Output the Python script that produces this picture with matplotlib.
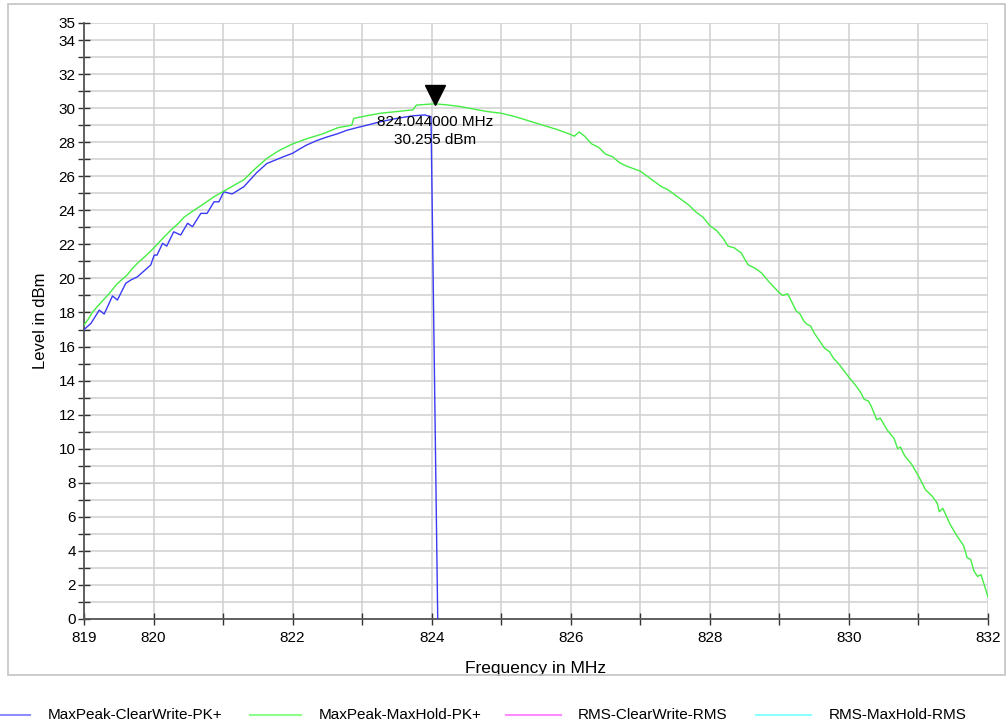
import numpy as np
import matplotlib
matplotlib.use("Agg")
import matplotlib.pyplot as plt
from matplotlib.lines import Line2D
from matplotlib.patches import Rectangle
from matplotlib.ticker import MultipleLocator, FuncFormatter
import matplotlib.transforms as mtransforms

plt.rcParams['font.family'] = ['Liberation Sans', 'DejaVu Sans']

# MaxPeak-MaxHold-PK+ (green)
hold_freq = [819.00, 819.06, 819.12, 819.19, 819.27, 819.36, 819.48, 819.62, 819.70, 819.77,
             819.88, 820.00, 820.12, 820.25, 820.35, 820.44, 820.58, 820.73, 820.87, 821.00,
             821.15, 821.30, 821.45, 821.63, 821.80,
             822.00, 822.20, 822.44, 822.65, 822.85, 822.88, 823.00, 823.26, 823.50, 823.73,
             823.78, 824.044, 824.20, 824.40, 824.60, 824.80, 825.00, 825.20,
             825.40, 825.60, 825.80, 826.00, 826.05, 826.12, 826.20, 826.30, 826.40, 826.50,
             826.60, 826.70, 826.80, 827.00, 827.10, 827.20, 827.30, 827.40, 827.50, 827.60,
             827.70, 827.80, 827.90, 828.00, 828.10, 828.20, 828.26, 828.35, 828.45, 828.55,
             828.65, 828.75, 828.85, 829.00, 829.05, 829.12, 829.18, 829.24, 829.30, 829.35,
             829.40, 829.45, 829.50, 829.55, 829.65, 829.72, 829.78, 829.85, 830.00, 830.10,
             830.17, 830.22, 830.28, 830.32, 830.40, 830.45, 830.55, 830.65, 830.70, 830.74,
             830.80, 830.90, 831.00, 831.05, 831.10, 831.20, 831.27, 831.30, 831.35, 831.45,
             831.55, 831.65, 831.70, 831.75, 831.80, 831.85, 831.90, 832.00]
hold_level = [17.26, 17.6, 18.0, 18.34, 18.7, 19.1, 19.7, 20.2, 20.6, 20.9,
              21.3, 21.77, 22.3, 22.84, 23.2, 23.6, 24.0, 24.4, 24.8, 25.1,
              25.45, 25.8, 26.4, 27.05, 27.5,
              27.9, 28.2, 28.5, 28.85, 29.0, 29.4, 29.5, 29.7, 29.8, 29.9,
              30.18, 30.255, 30.2, 30.1, 29.95, 29.8, 29.7, 29.5,
              29.25, 29.0, 28.75, 28.45, 28.35, 28.6, 28.35, 27.9, 27.7, 27.3,
              27.15, 26.8, 26.6, 26.3, 26.0, 25.7, 25.4, 25.2, 24.9, 24.6,
              24.3, 23.9, 23.6, 23.1, 22.8, 22.3, 21.9, 21.8, 21.5, 20.8,
              20.6, 20.3, 19.8, 19.15, 19.0, 19.1, 18.6, 18.1, 17.9, 17.5,
              17.3, 17.2, 16.8, 16.5, 15.9, 15.7, 15.3, 15.0, 14.2, 13.7,
              13.3, 12.9, 12.8, 12.5, 11.7, 11.8, 11.1, 10.6, 10.0, 10.1,
              9.6, 9.1, 8.4, 8.0, 7.6, 7.2, 6.8, 6.3, 6.5, 5.6,
              4.9, 4.3, 3.6, 3.5, 2.8, 2.5, 2.6, 1.3]

# MaxPeak-ClearWrite-PK+ (blue)
clear_freq = [819.00, 819.10, 819.22, 819.29, 819.41, 819.48, 819.60, 819.67, 819.77, 819.96,
              820.01, 820.05, 820.13, 820.19, 820.29, 820.39, 820.49, 820.56, 820.68, 820.77,
              820.87, 820.94, 821.01, 821.13, 821.30, 821.48, 821.63,
              821.75, 821.87, 822.00, 822.10, 822.20, 822.35, 822.49, 822.65, 822.78, 822.92,
              823.07, 823.26, 823.50, 823.73, 823.90, 823.99, 824.09]
clear_level = [17.0, 17.36, 18.14, 17.91, 18.97, 18.73, 19.71, 19.9, 20.1, 20.79,
               21.37, 21.37, 22.06, 21.9, 22.74, 22.55, 23.24, 23.04, 23.82, 23.82,
               24.5, 24.5, 25.09, 24.96, 25.39, 26.2, 26.75,
               26.95, 27.15, 27.35, 27.6, 27.83, 28.1, 28.3, 28.5, 28.7, 28.85,
               29.0, 29.2, 29.4, 29.55, 29.6, 29.5, -1.0]

marker_freq = 824.044
marker_level = 30.255

series_names = ['MaxPeak-ClearWrite-PK+', 'MaxPeak-MaxHold-PK+',
                'RMS-ClearWrite-RMS', 'RMS-MaxHold-RMS']
legend_colors = ['#8c8cff', '#8cff8c', '#ff8cff', '#8cffff']

x_labels = [819, 820, 822, 824, 826, 828, 830, 832]
y_labels = list(range(0, 35, 2)) + [35]

fig = plt.figure(figsize=(10.06, 7.27), dpi=100)
ax = fig.add_axes([84 / 1006, 108 / 727, 904 / 1006, 596 / 727])

# outer frame
fig.add_artist(Rectangle((8 / 1006, 52 / 727), 997 / 1006, 671 / 727,
                         transform=fig.transFigure, fill=False,
                         edgecolor='#c4c4c4', linewidth=1.2))

ax.plot(clear_freq, clear_level, color='#3a3af5', lw=1, zorder=3)
ax.plot(hold_freq, hold_level, color='#44ee44', lw=1, zorder=3)

# marker triangle, tip on the peak
offset = mtransforms.offset_copy(ax.transData, fig=fig, x=0, y=9, units='dots')
ax.plot([marker_freq], [marker_level], marker='v', color='black', ms=15,
        transform=offset, zorder=5, clip_on=False)
ax.text(marker_freq, 29.2, '%.6f MHz' % marker_freq, ha='center', va='center',
        fontsize=11, zorder=6)
ax.text(marker_freq, 28.15, '%.3f dBm' % marker_level, ha='center', va='center',
        fontsize=11, zorder=6)

ax.set_xlim(819, 832)
ax.set_ylim(0, 35)
ax.xaxis.set_major_locator(MultipleLocator(1))
ax.yaxis.set_major_locator(MultipleLocator(1))
ax.xaxis.set_major_formatter(FuncFormatter(lambda v, p: '%d' % round(v) if round(v) in x_labels else ''))
ax.yaxis.set_major_formatter(FuncFormatter(lambda v, p: '%d' % round(v) if round(v) in y_labels else ''))
ax.grid(True, color='#cfcfcf', lw=1.1)
ax.set_axisbelow(True)
for s in ['top', 'right']:
    ax.spines[s].set_visible(False)
for s in ['left', 'bottom']:
    ax.spines[s].set_color('#555555')
    ax.spines[s].set_linewidth(1.3)
ax.tick_params(direction='inout', length=8, width=1, color='#333333',
               labelsize=11, pad=2)
ax.tick_params(axis='x', pad=5)
ax.set_xlabel('Frequency in MHz', fontsize=12.5, labelpad=11)
ax.set_ylabel('Level in dBm', fontsize=12, labelpad=8)

# legend row
ly = 1 - 715 / 727
line_x = [(-25, 30), (250, 301), (506, 561), (756, 811)]
text_x = [48, 319, 578, 829]
for name, col, (x0, x1), tx in zip(series_names, legend_colors, line_x, text_x):
    fig.add_artist(Line2D([x0 / 1006, x1 / 1006], [ly, ly], color=col, lw=1.5,
                          transform=fig.transFigure))
    fig.text(tx / 1006, ly, name, fontsize=11, va='center', ha='left')

fig.savefig('out.png', dpi=100)
